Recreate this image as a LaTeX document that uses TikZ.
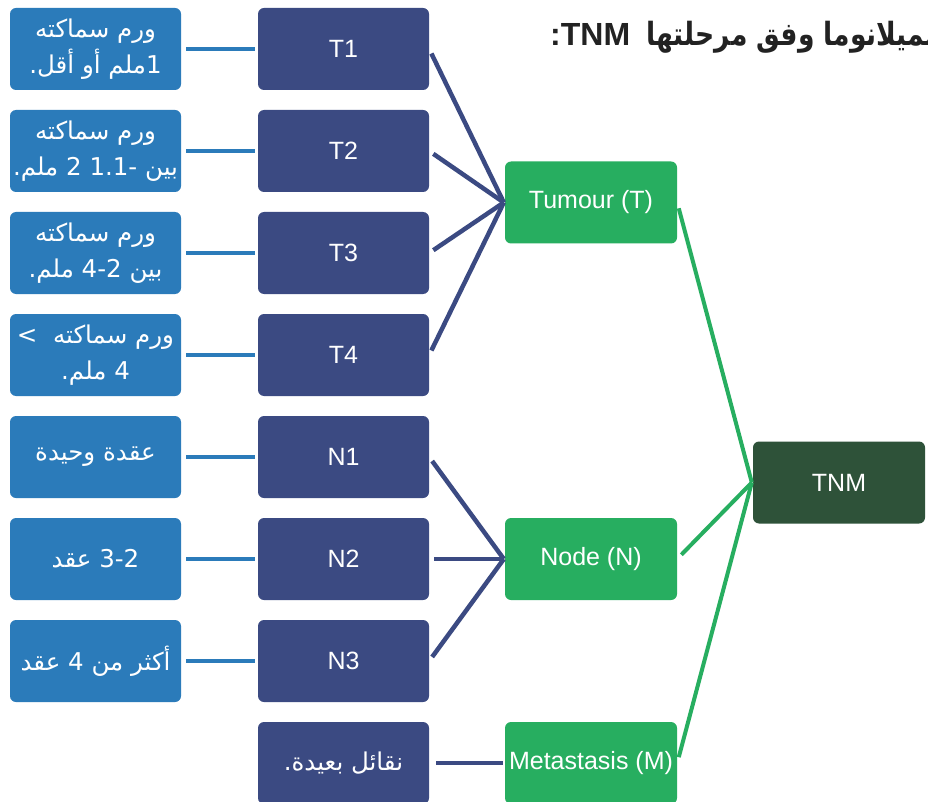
\documentclass[tikz,border=0pt]{standalone}
\usepackage{fontspec}
\setmainfont{Liberation Sans}
\newfontfamily\arabicfont[Script=Arabic]{DejaVu Sans}
\newfontfamily\arabictitle[Script=Arabic, FakeStretch=0.83]{DejaVu Sans}
\TeXXeTstate=1
\definecolor{leftblue}{HTML}{2B7BBA}
\definecolor{navy}{HTML}{3B4A82}
\definecolor{tgreen}{HTML}{27AE60}
\definecolor{dgreen}{HTML}{2E5239}
\definecolor{titlegray}{HTML}{222222}
\tikzset{
  boxbase/.style={rounded corners=6pt, minimum width=171pt, minimum height=82pt,
    inner sep=0pt, text=white, align=center},
  lbox/.style={boxbase, fill=leftblue, font=\arabicfont\fontsize{24.5}{36}\selectfont},
  mbox/.style={boxbase, fill=navy, font=\fontsize{25}{30}\selectfont},
  marbox/.style={boxbase, fill=navy, font=\arabicfont\fontsize{24.5}{36}\selectfont},
  gbox/.style={boxbase, fill=tgreen, minimum width=172pt, font=\fontsize{25}{30}\selectfont},
  tbox/.style={boxbase, fill=dgreen, minimum width=172pt, font=\fontsize{25}{30}\selectfont},
  bluecon/.style={draw=leftblue, line width=4.5pt, shorten <=5pt, shorten >=3pt},
  navycon/.style={draw=navy, line width=4.5pt, shorten <=5pt, shorten >=1pt},
  greencon/.style={draw=tgreen, line width=4pt, shorten <=6pt, shorten >=0pt}
}
\begin{document}
\begin{tikzpicture}[x=1pt,y=-1pt]
\useasboundingbox (0,0) rectangle (928,802);
\fill[white] (0,0) rectangle (928,802);

% title (runs past the right edge, as in the reference)
\node[anchor=base west, inner sep=0pt, text=titlegray,
      font=\bfseries\fontsize{32}{36}\selectfont] (title) at (550,46)
  {:TNM\hspace{16pt}{\arabictitle\beginR الميلانوما وفق مرحلتها\endR}};

% left boxes (visual order built left to right)
\node[lbox] (L1) at (95.5,49) {\beginR ورم سماكته\endR\\.\beginR أو أقل\endR\ \beginR ملم\endR1};
\node[lbox] (L2) at (95.5,151) {\beginR ورم سماكته\endR\\.\beginR ملم\endR\ 2 -1.1 \beginR بين\endR};
\node[lbox] (L3) at (95.5,253) {\beginR ورم سماكته\endR\\.\beginR ملم\endR\ 4-2 \beginR بين\endR};
\node[lbox] (L4) at (95.5,355) {>\ \ \beginR ورم سماكته\endR\\.\beginR ملم\endR\ 4};
\node[lbox] (L5) at (95.5,457) {\beginR عقدة وحيدة\endR};
\node[lbox] (L6) at (95.5,559) {\beginR عقد\endR\ 3-2};
\node[lbox] (L7) at (95.5,661) {\beginR عقد\endR\ 4 \beginR أكثر من\endR};

% middle boxes
\node[mbox] (M1) at (343.5,49) {T1};
\node[mbox] (M2) at (343.5,151) {T2};
\node[mbox] (M3) at (343.5,253) {T3};
\node[mbox] (M4) at (343.5,355) {T4};
\node[mbox] (M5) at (343.5,457) {N1};
\node[mbox] (M6) at (343.5,559) {N2};
\node[mbox] (M7) at (343.5,661) {N3};
\node[marbox] (M8) at (343.5,763) {.\beginR نقائل بعيدة\endR};

% green boxes
\node[gbox] (GT) at (591,202.5) {Tumour (T)};
\node[gbox] (GN) at (591,559) {Node (N)};
\node[gbox] (GM) at (591,763) {Metastasis (M)};

% TNM
\node[tbox] (TNM) at (839,482.5) {TNM};

% connectors left
\foreach \i in {1,...,7} {
  \draw[bluecon] (L\i.east) -- (M\i.west);
}
% navy to tumour / node
\coordinate (cT) at ([xshift=-1pt]GT.west);
\coordinate (cN) at ([xshift=-1pt]GN.west);
\foreach \i in {1,...,4} { \draw[navycon, shorten >=0pt] (M\i.east) -- (cT); }
\foreach \i in {5,...,7} { \draw[navycon, shorten >=0pt] (M\i.east) -- (cN); }
\draw[navycon, shorten <=7pt, shorten >=2pt] (M8.east) -- (GM.west);

% green to TNM
\coordinate (cTNM) at ([xshift=-1pt]TNM.west);
\draw[greencon] (GT.east) -- (cTNM);
\draw[greencon] (GN.east) -- (cTNM);
\draw[greencon] (GM.east) -- (cTNM);
\end{tikzpicture}
\end{document}
